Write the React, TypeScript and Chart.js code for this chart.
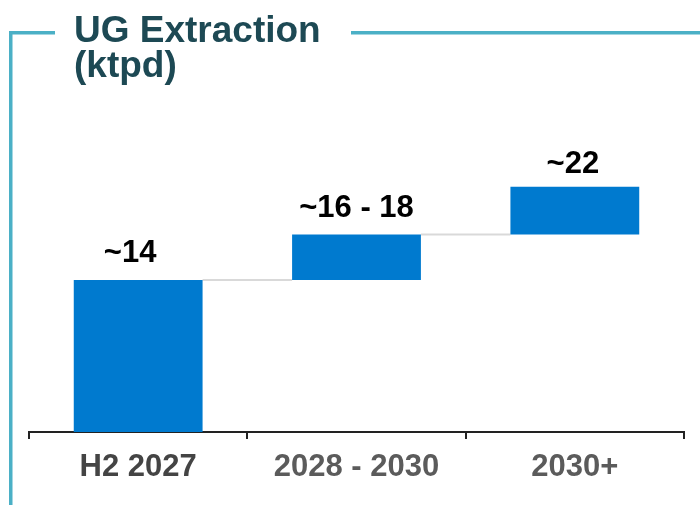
import React, { useEffect, useRef } from "react";
import { Chart, registerables } from "chart.js";

Chart.register(...registerables);

const categories = ["H2 2027", "2028 - 2030", "2030+"];
const barStarts = [0, 14, 18.2];
const barEnds = [14, 18.2, 22.6];
const valueLabels = ["~14", "~16 - 18", "~22"];
const titleLines = ["UG Extraction", "(ktpd)"];
const tickColors = ["#444444", "#5b5b5b", "#5b5b5b"];

const FONT = '"Liberation Sans", Arial, sans-serif';
const FRAME = "#4bb0c6";
const BAR = "#007acf";
const LABEL_DX = [-8, 0, -2];
const LABEL_DY = [18, 17, 14];

const decorPlugin = {
  id: "decor",
  beforeDraw(chart: any) {
    const ctx = chart.ctx;
    ctx.save();
    ctx.fillStyle = "#ffffff";
    ctx.fillRect(0, 0, chart.width, chart.height);
    ctx.fillStyle = FRAME;
    ctx.fillRect(9, 31, 3.5, chart.height - 31);
    ctx.fillRect(9, 31, 46, 3.5);
    ctx.fillRect(351, 31, chart.width - 351, 3.5);
    ctx.fillStyle = "#1d4954";
    ctx.font = `bold 37px ${FONT}`;
    ctx.textAlign = "left";
    ctx.textBaseline = "alphabetic";
    ctx.fillText(titleLines[0], 74, 42);
    ctx.fillText(titleLines[1], 74, 77);
    ctx.restore();
  },
  beforeDatasetsDraw(chart: any) {
    const ctx = chart.ctx;
    const meta = chart.getDatasetMeta(0);
    const y = chart.scales.y;
    ctx.save();
    ctx.strokeStyle = "#d9d9d9";
    ctx.lineWidth = 2;
    for (let i = 0; i < meta.data.length - 1; i++) {
      const a = meta.data[i];
      const b = meta.data[i + 1];
      const py = y.getPixelForValue(barEnds[i]);
      ctx.beginPath();
      ctx.moveTo(a.x + a.width / 2, py);
      ctx.lineTo(b.x - b.width / 2, py);
      ctx.stroke();
    }
    ctx.restore();
  },
  afterDatasetsDraw(chart: any) {
    const ctx = chart.ctx;
    const meta = chart.getDatasetMeta(0);
    const y = chart.scales.y;
    ctx.save();
    ctx.fillStyle = "#000000";
    ctx.font = `bold 31px ${FONT}`;
    ctx.textAlign = "center";
    ctx.textBaseline = "alphabetic";
    meta.data.forEach((el: any, i: number) => {
      const top = y.getPixelForValue(barEnds[i]);
      ctx.fillText(valueLabels[i], el.x + LABEL_DX[i], top - LABEL_DY[i]);
    });
    ctx.restore();
  },
};

export default function App() {
  const ref = useRef<HTMLCanvasElement | null>(null);
  useEffect(() => {
    if (!ref.current) return;
    const chart = new Chart(ref.current, {
      type: "bar",
      data: {
        labels: categories,
        datasets: [
          {
            data: barStarts.map((s, i) => [s, barEnds[i]]) as any,
            backgroundColor: BAR,
            borderWidth: 0,
            categoryPercentage: 1,
            barPercentage: 0.59,
          },
        ],
      },
      options: {
        responsive: false,
        animation: false,
        layout: { padding: { left: 29, right: 16, top: 128, bottom: 0 } },
        plugins: {
          legend: { display: false },
          tooltip: { enabled: false },
          title: { display: false },
        },
        scales: {
          x: {
            afterFit(scale: any) {
              scale.height = 73;
            },
            grid: {
              display: true,
              drawOnChartArea: false,
              drawTicks: true,
              tickLength: 7,
              color: "#222222",
              lineWidth: 2,
              offset: true,
            },
            border: { display: true, color: "#222222", width: 2 },
            ticks: {
              padding: 10,
              color: tickColors as any,
              font: { family: FONT, size: 31, weight: "bold" },
              maxRotation: 0,
            },
          },
          y: {
            display: false,
            min: 0,
            max: 28,
          },
        },
      },
      plugins: [decorPlugin],
    });
    return () => chart.destroy();
  }, []);
  return (
    <div style={{ position: "fixed", left: 0, top: 0, width: 700, height: 505, background: "#fff" }}>
      <canvas ref={ref} width={700} height={505} style={{ width: 700, height: 505, display: "block" }} />
    </div>
  );
}
